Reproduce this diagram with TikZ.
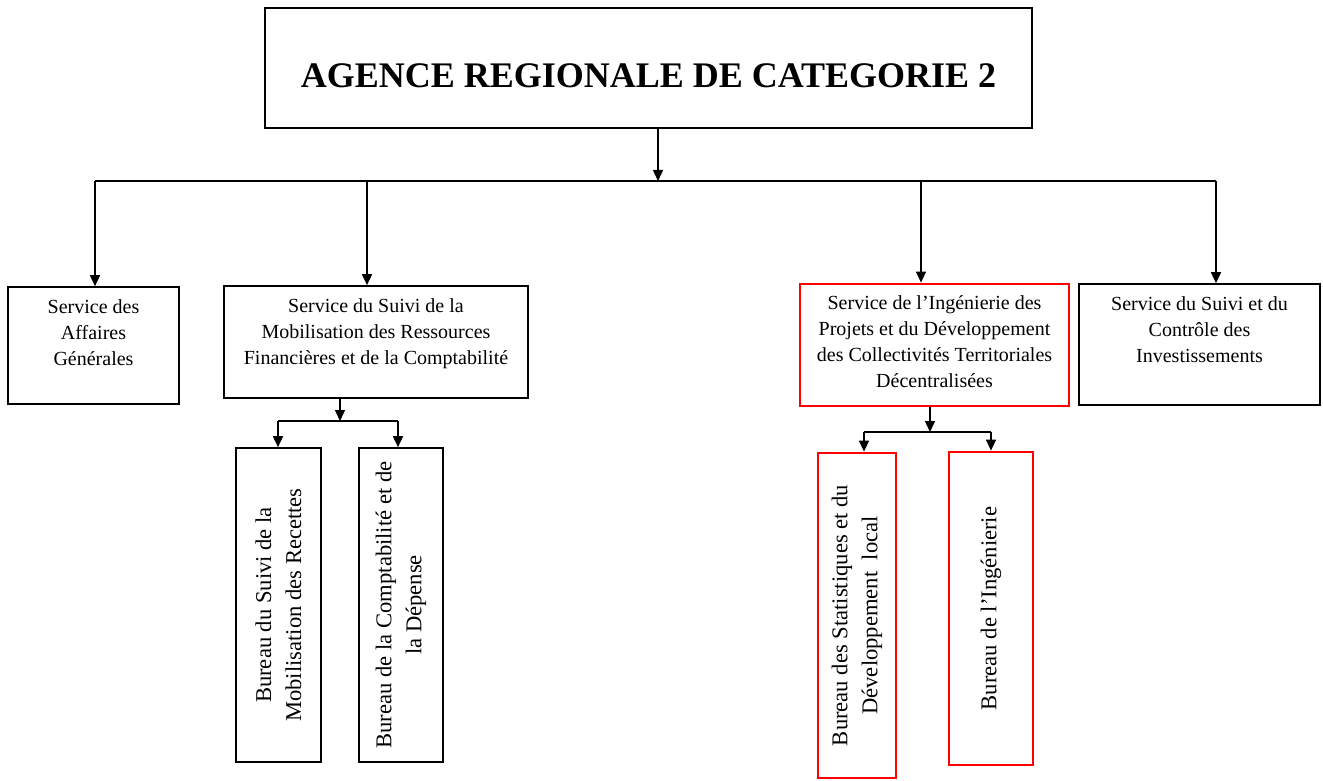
\documentclass[tikz,border=0pt]{standalone}
\usepackage{fontspec}
\setmainfont{Liberation Serif}
\usepackage{tikz}
\usepackage{xcolor}
\usetikzlibrary{arrows.meta,positioning,calc}
\definecolor{BoxRed}{HTML}{FF0000}
\tikzset{
  svcbox/.style={draw=black, line width=0.8pt, inner sep=0pt},
  redbox/.style={draw=BoxRed, line width=1.4pt, inner sep=0pt},
  titletext/.style={inner sep=0pt, font=\fontsize{18pt}{22pt}\selectfont\bfseries},
  svctext/.style={align=center, inner sep=0pt, anchor=north, font=\fontsize{10pt}{13pt}\selectfont},
  burtext/.style={align=center, inner sep=0pt, rotate=90, font=\fontsize{11.3pt}{15pt}\selectfont},
  arrow/.style={-{Triangle[length=5.5pt, width=5pt]}, line width=0.75pt},
  link/.style={line width=0.75pt}
}

\begin{document}
\begin{tikzpicture}[x=0.5pt, y=-0.5pt]
    \useasboundingbox (0,0) rectangle (1323,781);

    % top level
    \node[svcbox, minimum width=383.5pt, minimum height=60pt] (agence) at (648.5,68) {};
    \node[titletext] (agencetxt) at (648.5,76) {AGENCE REGIONALE DE CATEGORIE 2};

    % services
    \node[svcbox, minimum width=85.5pt, minimum height=58.5pt] (aff) at (93.5,345.5) {};
    \node[svcbox, minimum width=152pt, minimum height=56pt] (fin) at (376,342) {};
    \node[redbox, minimum width=134.5pt, minimum height=61pt] (ing) at (934.5,345) {};
    \node[svcbox, minimum width=120.5pt, minimum height=60.5pt] (inv) at (1199.5,344.5) {};

    \node[svctext, below=6.5pt of aff.north] (afftxt) {Service des\\Affaires\\Générales};
    \node[svctext, below=6.5pt of fin.north] (fintxt) {Service du Suivi de la\\Mobilisation des Ressources\\Financières et de la Comptabilité};
    \node[svctext, below=6.5pt of ing.north] (ingtxt) {Service de l’Ingénierie des\\Projets et du Développement\\des Collectivités Territoriales\\Décentralisées};
    \node[svctext, below=6.5pt of inv.north] (invtxt) {Service du Suivi et du\\Contrôle des\\Investissements};

    % bureaux
    \node[svcbox, minimum width=42.5pt, minimum height=157pt] (brec) at (278.5,605) {};
    \node[svcbox, minimum width=42pt, minimum height=157pt] (bdep) at (401,605) {};
    \node[redbox, minimum width=39pt, minimum height=162.5pt] (bstat) at (857,615.5) {};
    \node[redbox, minimum width=42pt, minimum height=156.5pt] (bing) at (991,608.5) {};

    \node[burtext] (brectxt) at (brec) {Bureau du Suivi de la\\Mobilisation des Recettes};
    \node[burtext] (bdeptxt) at (bdep) {Bureau de la Comptabilité et de\\la Dépense};
    \node[burtext] (bstattxt) at (bstat) {Bureau des Statistiques et du\\Développement\ \ local};
    \node[burtext] (bingtxt) at (bing) {Bureau de l’Ingénierie};

    % connectors
    \coordinate (bus) at (658,181);
    \coordinate (busL) at (95,181);
    \coordinate (busF) at (367,181);
    \coordinate (busI) at (921,181);
    \coordinate (busR) at (1216,181);
    \draw[arrow] (agence.south -| bus) -- (bus);
    \draw[link] (busL) -- (busR);
    \draw[arrow] (busL) -- (busL |- aff.north);
    \draw[arrow] (busF) -- (busF |- fin.north);
    \draw[arrow] (busI) -- (busI |- ing.north);
    \draw[arrow] (busR) -- (busR |- inv.north);

    \coordinate (finhub) at (340,421);
    \coordinate (recL) at (278,421);
    \coordinate (recR) at (398,421);
    \draw[arrow] (fin.south -| finhub) -- (finhub);
    \draw[link] (recL) -- (recR);
    \draw[arrow] (recL) -- (recL |- brec.north);
    \draw[arrow] (recR) -- (recR |- bdep.north);

    \coordinate (inghub) at (930,432);
    \coordinate (ingL) at (864,432);
    \coordinate (ingR) at (991,432);
    \draw[arrow] (ing.south -| inghub) -- (inghub);
    \draw[link] (ingL) -- (ingR);
    \draw[arrow] (ingL) -- (ingL |- bstat.north);
    \draw[arrow] (ingR) -- (ingR |- bing.north);
\end{tikzpicture}
\end{document}
